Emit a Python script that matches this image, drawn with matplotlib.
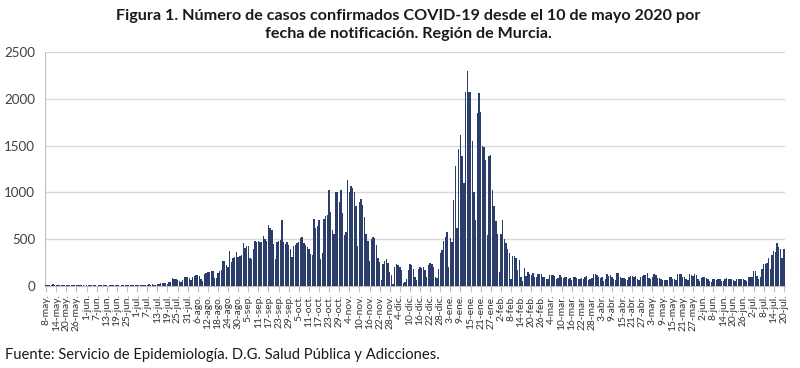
import datetime as dt
import matplotlib
matplotlib.use("Agg")
import matplotlib.pyplot as plt

plt.rcParams['font.family'] = ['Lato', 'DejaVu Sans']

start_date = dt.date(2020, 5, 8)
month_abbr = ['ene', 'feb', 'mar', 'abr', 'may', 'jun',
              'jul', 'ago', 'sep', 'oct', 'nov', 'dic']

# Daily confirmed cases, one value per day from 8-may-2020 to 20-jul-2021
cases = [
    15, 12, 9, 14, 17, 15, 13,
    14, 11, 7, 12, 15, 13, 11,
    10, 9, 6, 12, 14, 11, 10,
    9, 7, 4, 10, 12, 10, 8,
    8, 6, 4, 9, 11, 10, 9,
    9, 7, 5, 10, 13, 12, 9,
    8, 7, 5, 11, 12, 10, 9,
    10, 8, 6, 12, 14, 11, 13,
    12, 9, 8, 15, 14, 18, 16,
    20, 14, 10, 25, 22, 30, 28,
    35, 30, 25, 40, 45, 85, 80,
    72, 65, 50, 40, 68, 95, 100,
    92, 88, 60, 98, 110, 120, 118,
    105, 70, 52, 130, 140, 150, 145,
    155, 160, 82, 90, 140, 165, 175,
    270, 265, 220, 200, 375, 260, 300,
    310, 360, 315, 320, 335, 455, 410,
    425, 430, 300, 290, 390, 480, 470,
    485, 470, 475, 530, 500, 480, 650,
    620, 600, 450, 285, 470, 480, 490,
    710, 470, 450, 470, 440, 400, 310,
    430, 440, 460, 470, 510, 520, 460,
    440, 420, 400, 340, 330, 720, 620,
    640, 700, 290, 350, 720, 750, 760,
    1030, 790, 600, 560, 1000, 1000, 900,
    1030, 780, 550, 580, 1130, 1000, 1070,
    1050, 1000, 850, 430, 900, 930, 870,
    740, 560, 480, 270, 500, 520, 510,
    440, 300, 260, 60, 240, 270, 290,
    250, 150, 120, 20, 200, 230, 220,
    200, 170, 30, 40, 80, 170, 240,
    220, 180, 100, 60, 180, 200, 190,
    200, 170, 100, 220, 250, 230, 200,
    100, 90, 180, 350, 385, 480, 520,
    580, 200, 510, 470, 920, 1285, 620,
    1460, 1610, 1385, 1100, 2070, 2300, 2070,
    2070, 1550, 1000, 700, 1850, 2060, 1860,
    1500, 1480, 1350, 550, 1390, 1400, 1030,
    850, 690, 560, 150, 560, 710, 500,
    460, 400, 350, 80, 320, 320, 300,
    170, 280, 100, 50, 190, 110, 150,
    130, 120, 140, 100, 100, 130, 125,
    130, 100, 100, 75, 80, 118, 115,
    120, 110, 70, 90, 118, 100, 85,
    95, 100, 80, 90, 60, 100, 100,
    85, 70, 80, 90, 75, 100, 105,
    60, 80, 90, 130, 125, 120, 95,
    90, 100, 50, 80, 130, 110, 120,
    100, 80, 60, 140, 135, 100, 90,
    85, 80, 60, 100, 110, 105, 95,
    110, 80, 60, 100, 110, 118, 120,
    143, 90, 80, 100, 125, 120, 90,
    85, 80, 60, 65, 60, 65, 100,
    95, 70, 80, 60, 128, 125, 125,
    100, 100, 70, 60, 125, 120, 110,
    125, 120, 70, 55, 85, 95, 100,
    90, 80, 50, 45, 70, 70, 65,
    80, 80, 55, 50, 80, 82, 80,
    75, 80, 60, 50, 75, 75, 70,
    78, 75, 60, 50, 100, 95, 100,
    160, 165, 110, 80, 100, 180, 235,
    240, 250, 300, 180, 330, 370, 360,
    457, 420, 400, 300, 400,
]

dates = [start_date + dt.timedelta(days=i) for i in range(len(cases))]
tick_step = 6
tick_positions = list(range(0, len(cases), tick_step))
tick_labels = [f"{dates[i].day}-{month_abbr[dates[i].month - 1]}." for i in tick_positions]
y_ticks = [0, 500, 1000, 1500, 2000, 2500]

title_text = ("Figura 1. Número de casos confirmados COVID-19 desde el 10 de mayo 2020 por\n"
              "fecha de notificación. Región de Murcia.")
source_text = "Fuente: Servicio de Epidemiología. D.G. Salud Pública y Adicciones."

fig = plt.figure(figsize=(8, 3.68), dpi=100)
ax = fig.add_axes([45 / 800, 1 - 286 / 368, 740 / 800, 234 / 368])

ax.bar(range(len(cases)), cases, width=0.82, color='#2b3e6b', linewidth=0, zorder=3)
ax.set_xlim(-0.7, len(cases) - 0.3)
ax.set_ylim(0, 2500)
ax.set_yticks(y_ticks)
ax.set_yticklabels([str(v) for v in y_ticks], fontsize=9.6, color='#404040')
ax.yaxis.grid(True, color='#d9d9d9', linewidth=1, zorder=0)
ax.set_axisbelow(True)
ax.tick_params(axis='y', length=0, pad=7)

ax.set_xticks(tick_positions)
ax.set_xticklabels(tick_labels, rotation=90, fontsize=7.4, color='#333333')
ax.tick_params(axis='x', length=4, color='#bfbfbf', pad=2)

for s in ['top', 'right']:
    ax.spines[s].set_visible(False)
for s in ['left', 'bottom']:
    ax.spines[s].set_color('#bfbfbf')

fig.text(0.51, 1 - 25 / 368, title_text, ha='center', va='center',
         fontsize=11.6, fontweight='bold', linespacing=1.45, color='#1a1a1a')
fig.text(5 / 800, 1 - 355 / 368, source_text, ha='left', va='center',
         fontsize=10.6, color='#1a1a1a')

fig.savefig('out.png', dpi=100)
